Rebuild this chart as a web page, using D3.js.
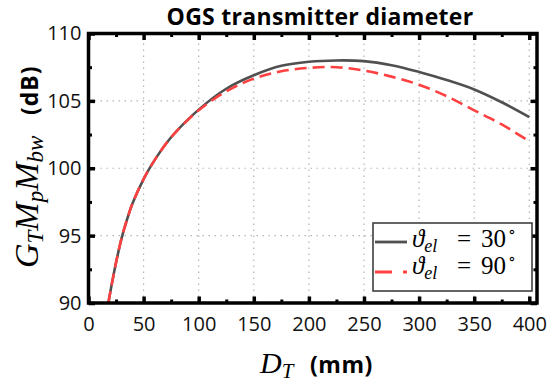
<!DOCTYPE html>
<html>
<head>
<meta charset="utf-8">
<script src="https://cdn.jsdelivr.net/npm/d3@7"></script>
<style>
  html, body { margin: 0; padding: 0; background: #fff; }
  svg { display: block; }
  .tick text { font-family: "Open Sans", Lato, sans-serif; font-size: 20px; fill: #111; }
</style>
</head>
<body>
<div id="chart"></div>
<script>
// Transmitter diameter D_T (mm) and the two elevation cases (dB).
const diameters = [18, 20, 25, 30, 35, 40, 50, 60, 75, 100, 125, 150, 175, 200, 225, 250, 275, 300, 325, 350, 375, 400]
const gain30 = [90, 90.9, 93.0, 94.8, 96.2, 97.4, 99.2, 100.6, 102.3, 104.35, 105.9, 106.9, 107.6, 107.9, 108.0, 107.95, 107.65, 107.15, 106.55, 105.85, 104.9, 103.8]
const gain90 = [90, 90.9, 93.0, 94.8, 96.2, 97.4, 99.2, 100.6, 102.3, 104.3, 105.7, 106.65, 107.2, 107.45, 107.5, 107.25, 106.8, 106.2, 105.35, 104.3, 103.25, 102.0]
const xTicks = [0, 50, 100, 150, 200, 250, 300, 350, 400]
const yTicks = [90, 95, 100, 105, 110]
const series = [
  { name: '30', values: gain30, color: '#505050', dash: null, legendDash: null },
  { name: '90', values: gain90, color: '#ff4040', dash: '12,6', legendDash: '17,11' }
]

const width = 548
const height = 384
const margin = { top: 33.5, right: 11, bottom: 81, left: 88.5 }

const svg = d3.select('#chart')
  .append('svg')
  .attr('width', width)
  .attr('height', height)

/**
 * Scales.
 */
const x = d3.scaleLinear()
  .domain([0, 407])
  .range([margin.left, width - margin.right])
const y = d3.scaleLinear()
  .domain([90, 110])
  .range([height - margin.bottom, margin.top])

const plotW = x.range()[1] - x.range()[0]
const plotH = y.range()[0] - y.range()[1]

// Grid (dotted, major ticks only)
const grid = svg.append('g').attr('class', 'grid')
grid.selectAll('line.gx')
  .data(xTicks.slice(1))
  .enter()
  .append('line')
  .attr('x1', d => x(d)).attr('x2', d => x(d))
  .attr('y1', y(90)).attr('y2', y(110))
  .attr('stroke', '#b4b4b4')
  .attr('stroke-width', 1.2)
  .attr('stroke-dasharray', '1.5,4.5')
grid.selectAll('line.gy')
  .data(yTicks.slice(1, -1))
  .enter()
  .append('line')
  .attr('x1', x(0)).attr('x2', x.range()[1])
  .attr('y1', d => y(d)).attr('y2', d => y(d))
  .attr('stroke', '#b4b4b4')
  .attr('stroke-width', 1.2)
  .attr('stroke-dasharray', '1.5,4.5')

/**
 * Curves.
 */
svg.append('defs').append('clipPath').attr('id', 'plotclip')
  .append('rect')
  .attr('x', x.range()[0]).attr('y', y.range()[1])
  .attr('width', plotW).attr('height', plotH)

const line = values => d3.line()
  .x((d, i) => x(diameters[i]))
  .y(d => y(d))
  .curve(d3.curveCatmullRom.alpha(0.5))(values)

svg.append('g')
  .attr('clip-path', 'url(#plotclip)')
  .selectAll('path')
  .data(series)
  .enter()
  .append('path')
  .attr('d', d => line(d.values))
  .attr('fill', 'none')
  .attr('stroke', d => d.color)
  .attr('stroke-width', 2.6)
  .attr('stroke-dasharray', d => d.dash)

/**
 * Axes with inward ticks, mirrored on top and right.
 */
const minorX = d3.range(25, 400, 50)
const minorY = [92.5, 97.5, 102.5, 107.5]
const bottomY = y.range()[0]
const rightX = x.range()[1]

function tickAxis(makeAxis, scale, transform, major, minor, padding) {
  const g = svg.append('g').attr('transform', transform)
  g.call(makeAxis(scale).tickValues(minor).tickSize(-3.5).tickFormat(''))
  g.selectAll('.domain').remove()
  g.selectAll('.tick line').attr('stroke', '#000').attr('stroke-width', 3)
  const g2 = svg.append('g').attr('transform', transform)
  g2.call(makeAxis(scale).tickValues(major).tickSize(-6.5).tickPadding(padding)
    .tickFormat(padding ? d3.format('d') : ''))
  g2.selectAll('.domain').remove()
  g2.selectAll('.tick line').attr('stroke', '#000').attr('stroke-width', 3.5)
  return g2
}

tickAxis(d3.axisBottom, x, `translate(0,${bottomY})`, xTicks, minorX, 14)
tickAxis(d3.axisTop, x, `translate(0,${y.range()[1]})`, xTicks, minorX, 0)
tickAxis(d3.axisLeft, y, `translate(${x.range()[0]},0)`, yTicks, minorY, 7)
tickAxis(d3.axisRight, y, `translate(${rightX},0)`, yTicks, minorY, 0)

// Frame
svg.append('rect')
  .attr('x', x.range()[0]).attr('y', y.range()[1])
  .attr('width', plotW).attr('height', plotH)
  .attr('fill', 'none')
  .attr('stroke', '#000')
  .attr('stroke-width', 3.5)

/**
 * Title and axis labels.
 */
const serif = '"Liberation Serif", "DejaVu Serif", serif'
const sans = '"Open Sans", Lato, sans-serif'

svg.append('text')
  .attr('x', 320).attr('y', 25)
  .attr('text-anchor', 'middle')
  .attr('font-family', sans)
  .attr('font-weight', 'bold')
  .attr('font-size', 23)
  .attr('letter-spacing', 0.3)
  .attr('fill', '#000')
  .text('OGS transmitter diameter')

const xLabel = svg.append('text')
  .attr('x', 260).attr('y', 373)
  .attr('fill', '#000')
xLabel.append('tspan').attr('font-family', serif).attr('font-style', 'italic').attr('font-size', 30).text('D')
xLabel.append('tspan').attr('font-family', serif).attr('font-style', 'italic').attr('font-size', 21).attr('dy', 5).text('T')
xLabel.append('tspan').attr('x', 310).attr('font-family', sans).attr('font-weight', 'bold').attr('font-size', 23)
  .attr('letter-spacing', 0.5).attr('dy', -5).text('(mm)')

const yLabel = svg.append('text')
  .attr('transform', 'translate(38,0) rotate(-90)')
  .attr('x', -268)
  .attr('fill', '#000')
const parts = [['G', 'T'], ['M', 'p'], ['M', 'bw']]
parts.forEach(([main, sub], i) => {
  yLabel.append('tspan').attr('font-family', serif).attr('font-style', 'italic').attr('font-size', 34)
    .attr('dy', i === 0 ? 0 : -5).text(main)
  yLabel.append('tspan').attr('font-family', serif).attr('font-style', 'italic').attr('font-size', 23)
    .attr('dy', 5).text(sub)
})
yLabel.append('tspan').attr('x', -115).attr('font-family', sans).attr('font-weight', 'bold').attr('font-size', 23)
  .attr('letter-spacing', 1).attr('dy', -5).text('(dB)')

/**
 * Legend.
 */
const legend = svg.append('g').attr('transform', 'translate(373,223)')
legend.append('rect')
  .attr('width', 159).attr('height', 68)
  .attr('fill', '#fff')
  .attr('stroke', '#333')
  .attr('stroke-width', 1.5)
series.forEach((s, i) => {
  const ly = 19 + i * 30
  const by = 24 + i * 27
  legend.append('line')
    .attr('x1', 2).attr('x2', 34)
    .attr('y1', ly).attr('y2', ly)
    .attr('stroke', s.color)
    .attr('stroke-width', 2.8)
    .attr('stroke-dasharray', s.legendDash)
  const t = legend.append('text')
    .attr('y', by)
    .attr('font-family', serif)
    .attr('font-size', 25)
    .attr('fill', '#000')
  t.append('tspan').attr('x', 39).attr('font-style', 'italic').text('\u03D1')
  t.append('tspan').attr('font-style', 'italic').attr('font-size', 18).attr('dy', 5).text('el')
  t.append('tspan').attr('x', 84).attr('dy', -5).text('=')
  t.append('tspan').attr('x', 108).text(s.name)
  t.append('tspan').attr('font-size', 16).attr('dx', 2).attr('dy', -10).text('\u2218')
})
</script>
</body>
</html>
